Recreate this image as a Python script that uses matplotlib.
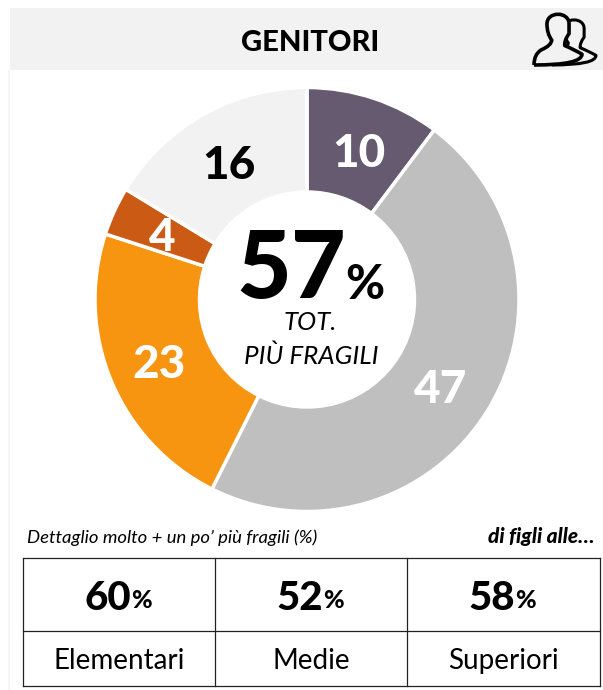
import matplotlib
matplotlib.use('Agg')
import matplotlib.pyplot as plt
from matplotlib.patches import Rectangle, PathPatch
from matplotlib.path import Path

plt.rcParams['font.family'] = ['Lato', 'DejaVu Sans']

# Values: slices as drawn, labels as printed
slice_values = [10.25, 47.15, 22.6, 3.7, 16.3]
slice_labels = ['10', '47', '23', '4', '16']
slice_colors = ['#655a6f', '#bfbfbf', '#f79410', '#cb5a15', '#f2f2f2']
slice_label_colors = ['white', 'white', 'white', 'white', 'black']
total_value = 57
school_names = ['Elementari', 'Medie', 'Superiori']
school_values = [60, 52, 58]

W, H = 603, 690
fig = plt.figure(figsize=(W / 100, H / 100), dpi=100, facecolor='white')

# Overlay in pixel coordinates for header, table and text
bg = fig.add_axes([0, 0, 1, 1])
bg.set_xlim(0, W)
bg.set_ylim(H, 0)
bg.axis('off')

bg.add_patch(Rectangle((10, 8), 593, 62, facecolor='#f2f2f2', edgecolor='none'))
bg.add_patch(Rectangle((8, 70), 2, 620, facecolor='#f4f4f4', edgecolor='none'))
bg.text(310, 43, 'GENITORI', fontsize=21, fontweight='black', ha='center', va='center')

# Donut
cx, cy, r = 307, 299.5, 212
pie_ax = fig.add_axes([(cx - r) / W, 1 - (cy + r) / H, 2 * r / W, 2 * r / H])
pie_ax.pie(slice_values, colors=slice_colors, startangle=90, counterclock=False,
           radius=1, wedgeprops={'width': 1 - 107.5 / r, 'edgecolor': 'white', 'linewidth': 2.5})
pie_ax.set_xlim(-1, 1)
pie_ax.set_ylim(-1, 1)

# Text goes on top of the donut
top = fig.add_axes([0, 0, 1, 1])
top.set_xlim(0, W)
top.set_ylim(H, 0)
top.axis('off')

label_xy = [(359, 154), (441, 390), (159, 365), (162, 238), (229, 166)]
for lab, col, (x, y) in zip(slice_labels, slice_label_colors, label_xy):
    top.text(x, y, lab, fontsize=33, fontweight='black', color=col, ha='center', va='center')

top.text(236, 271, str(total_value), fontsize=68, fontweight='black', ha='left', va='center')
top.text(345, 285, '%', fontsize=34, fontweight='black', ha='left', va='center')
top.text(310, 323, 'TOT.', fontsize=18.5, fontstyle='italic', ha='center', va='center')
top.text(311, 356, 'PIÙ FRAGILI', fontsize=18.7, fontstyle='italic', ha='center', va='center')

# Table
top.text(27, 538, 'Dettaglio molto + un po’ più fragili (%)', fontsize=13.3, fontstyle='italic',
         ha='left', va='center')
top.text(595, 537, 'di figli alle…', fontsize=15, fontstyle='italic', fontweight='black',
         ha='right', va='center')

col_x = [23, 215, 407, 600]
row_y = [558, 631, 686]
for x in col_x:
    top.plot([x, x], [row_y[0], row_y[-1]], color='#222222', lw=0.9)
for y in row_y:
    top.plot([col_x[0], col_x[-1]], [y, y], color='#222222', lw=0.9)

val_x = [120, 312, 504]
for x, name, val in zip(val_x, school_names, school_values):
    top.text(x + 11, 598, str(val), fontsize=29, fontweight='black', ha='right', va='center')
    top.text(x + 11, 601, '%', fontsize=18, fontweight='black', ha='left', va='center')
    top.text(x - 0.5, 661, name, fontsize=20, ha='center', va='center')


# Icon: a person outline, shape given relative to its centre, half width and height
def person(xc, half, y_top, y_bot):
    h = y_bot - y_top
    pts = [(-1, 1), (-1, 0.8), (-0.7, 0.72),
           (-0.28, 0.64), (-0.26, 0.54), (-0.46, 0.42),
           (-0.46, 0.24), (-0.46, 0), (0.46, 0), (0.46, 0.24),
           (0.46, 0.42), (0.26, 0.54), (0.28, 0.64),
           (0.7, 0.72), (1, 0.8), (1, 1), (-1, 1)]
    codes = [Path.MOVETO, Path.CURVE3, Path.CURVE3,
             Path.CURVE3, Path.CURVE3, Path.CURVE3,
             Path.LINETO, Path.CURVE4, Path.CURVE4, Path.CURVE4,
             Path.LINETO, Path.CURVE3, Path.CURVE3,
             Path.CURVE3, Path.CURVE3, Path.CURVE3, Path.LINETO]
    verts = [(xc + px * half, y_top + py * h) for px, py in pts]
    return Path(verts, codes)


top.add_patch(PathPatch(person(574, 22, 17, 65), facecolor='#f2f2f2', edgecolor='black',
                        lw=2.2, zorder=5, joinstyle='round'))
top.add_patch(PathPatch(person(558, 24, 11, 65), facecolor='#f2f2f2', edgecolor='black',
                        lw=2.6, zorder=6, joinstyle='round'))

fig.savefig('out.png', dpi=100)
